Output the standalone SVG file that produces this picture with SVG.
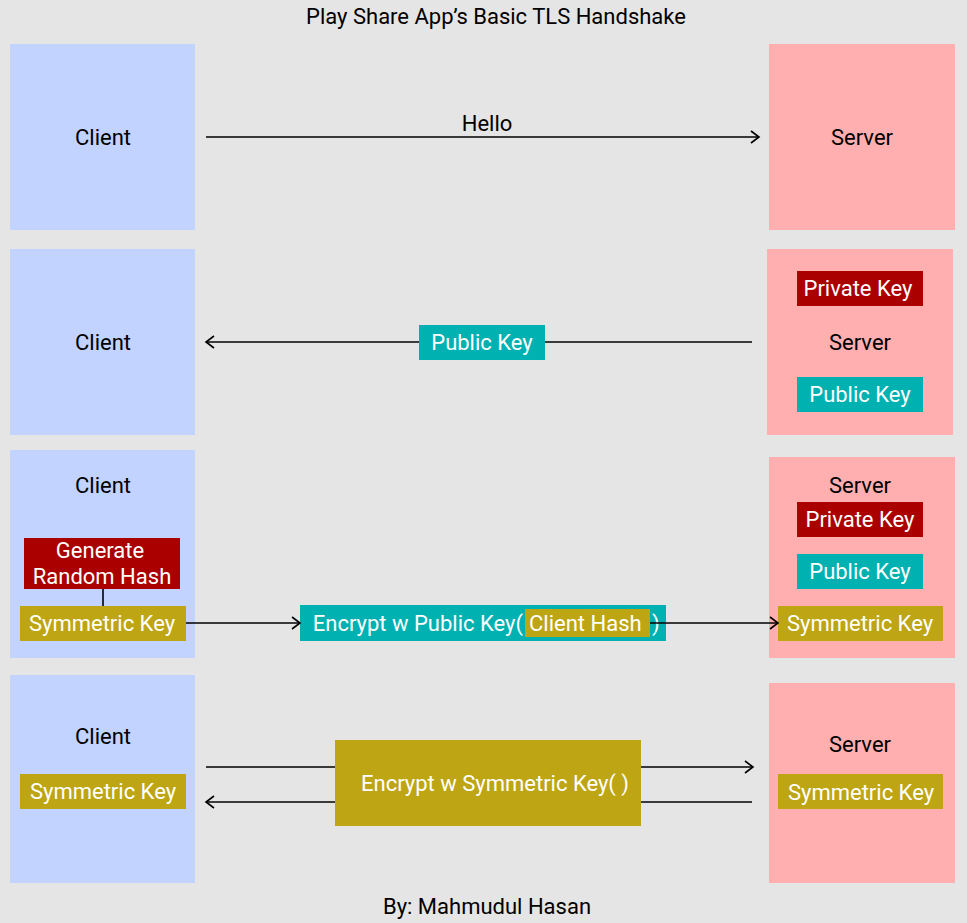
<svg xmlns="http://www.w3.org/2000/svg" width="967" height="923" viewBox="0 0 967 923">
<defs>
<marker id="ah" markerWidth="12" markerHeight="14" refX="10" refY="7" orient="auto" markerUnits="userSpaceOnUse">
<path d="M2,1 L10,7 L2,13" fill="none" stroke="#000" stroke-width="1.6"/>
</marker>
<style>
text{font-family:Roboto,"Liberation Sans",sans-serif;font-size:22px;text-anchor:middle}
.lbl{fill:#000}
.w{fill:#fff}
.client{fill:#c2d3ff}
.server{fill:#ffafaf}
.red{fill:#aa0000}
.teal{fill:#00b1b1}
.olive{fill:#bea514}
.line{stroke:#000;stroke-width:1.6;fill:none}
</style>
</defs>
<rect width="967" height="923" fill="#e5e5e5"/>
<text class="lbl" x="496" y="24">Play Share App’s Basic TLS Handshake</text>

<g id="client1"><rect class="client" x="10" y="44" width="185" height="186"/><text class="lbl" x="103" y="145">Client</text></g>
<g id="server1"><rect class="server" x="769" y="44" width="186" height="186"/><text class="lbl" x="862" y="145">Server</text></g>

<g id="client2"><rect class="client" x="10" y="249" width="185" height="186"/><text class="lbl" x="103" y="350">Client</text></g>
<g id="server2"><rect class="server" x="767" y="249" width="186" height="186"/><text class="lbl" x="860" y="350">Server</text></g>
<g id="server2-private"><rect class="red" x="797" y="271" width="126" height="35"/><text class="w" x="858" y="296">Private Key</text></g>
<g id="server2-public"><rect class="teal" x="797" y="377" width="126" height="35"/><text class="w" x="860" y="402">Public Key</text></g>
<g id="public-key-msg"><rect class="teal" x="419" y="325" width="126" height="35"/><text class="w" x="482" y="350">Public Key</text></g>

<g id="client3"><rect class="client" x="10" y="450" width="185" height="208"/><text class="lbl" x="103" y="493">Client</text></g>
<g id="gen-hash"><rect class="red" x="24" y="538" width="156" height="51"/><text class="w" x="100" y="558">Generate</text><text class="w" x="102" y="584">Random Hash</text></g>
<g id="client3-sym"><rect class="olive" x="20" y="606" width="166" height="35"/><text class="w" x="102" y="631">Symmetric Key</text></g>
<g id="encrypt-pub"><rect class="teal" x="300" y="605" width="366" height="36"/><text class="w" x="523" y="631" style="text-anchor:end">Encrypt w Public Key(</text><rect class="olive" x="525" y="609" width="125" height="28"/><text class="w" x="529" y="631" style="text-anchor:start">Client Hash</text><text class="w" x="652" y="631" style="text-anchor:start">)</text></g>
<g id="server3"><rect class="server" x="769" y="457" width="186" height="201"/><text class="lbl" x="860" y="493">Server</text></g>
<g id="server3-private"><rect class="red" x="797" y="502" width="126" height="35"/><text class="w" x="860" y="527">Private Key</text></g>
<g id="server3-public"><rect class="teal" x="797" y="554" width="126" height="35"/><text class="w" x="860" y="579">Public Key</text></g>
<g id="server3-sym"><rect class="olive" x="778" y="606" width="165" height="35"/><text class="w" x="860" y="631">Symmetric Key</text></g>

<g id="client4"><rect class="client" x="10" y="675" width="185" height="208"/><text class="lbl" x="103" y="744">Client</text></g>
<g id="client4-sym"><rect class="olive" x="20" y="774" width="166" height="35"/><text class="w" x="103" y="799">Symmetric Key</text></g>
<g id="encrypt-sym"><rect class="olive" x="335" y="740" width="306" height="86"/><text class="w" x="495" y="791">Encrypt w Symmetric Key( )</text></g>
<g id="server4"><rect class="server" x="769" y="683" width="186" height="200"/><text class="lbl" x="860" y="752">Server</text></g>
<g id="server4-sym"><rect class="olive" x="778" y="774" width="165" height="35"/><text class="w" x="861" y="800">Symmetric Key</text></g>

<g id="connectors">
<line class="line" x1="206" y1="137" x2="759" y2="137" marker-end="url(#ah)"/>
<line class="line" x1="752" y1="342" x2="545" y2="342"/>
<line class="line" x1="419" y1="342" x2="206" y2="342" marker-end="url(#ah)"/>
<line class="line" x1="103" y1="589" x2="103" y2="606"/>
<line class="line" x1="186" y1="623" x2="300" y2="623" marker-end="url(#ah)"/>
<line class="line" x1="650" y1="623" x2="778" y2="623" marker-end="url(#ah)"/>
<line class="line" x1="206" y1="767" x2="335" y2="767"/>
<line class="line" x1="641" y1="767" x2="753" y2="767" marker-end="url(#ah)"/>
<line class="line" x1="752" y1="802" x2="641" y2="802"/>
<line class="line" x1="335" y1="802" x2="206" y2="802" marker-end="url(#ah)"/>
</g>

<g id="hello-label"><text class="lbl" x="487" y="131">Hello</text></g>

<text class="lbl" x="487" y="914">By: Mahmudul Hasan</text>
</svg>
